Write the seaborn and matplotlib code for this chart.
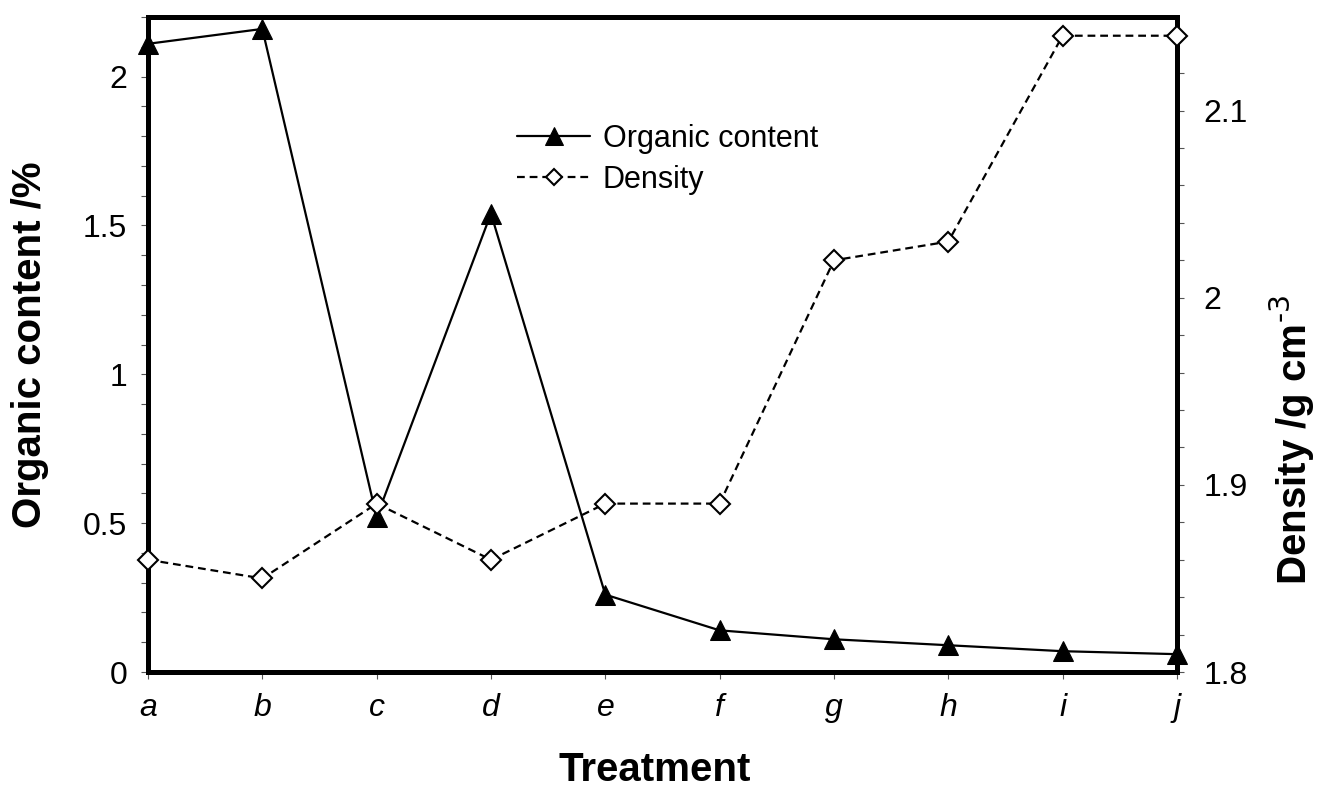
import matplotlib
matplotlib.use("Agg")
import matplotlib.pyplot as plt
import seaborn as sns
import pandas as pd
import numpy as np
from matplotlib.ticker import MultipleLocator, FuncFormatter

# ---- data ----
treatments = ["a", "b", "c", "d", "e", "f", "g", "h", "i", "j"]
organic_content = [2.11, 2.16, 0.52, 1.54, 0.26, 0.14, 0.11, 0.09, 0.07, 0.06]
density = [1.86, 1.85, 1.89, 1.86, 1.89, 1.89, 2.02, 2.03, 2.14, 2.14]

sns.set_theme(style="white")
plt.rcParams['font.family'] = ['Liberation Sans', 'DejaVu Sans']
plt.rcParams['mathtext.default'] = 'regular'
plt.rcParams['text.color'] = 'black'
plt.rcParams['axes.labelcolor'] = 'black'
plt.rcParams['xtick.color'] = 'black'
plt.rcParams['ytick.color'] = 'black'

df = pd.DataFrame({
    "pos": np.arange(len(treatments)),
    "treatment": treatments,
    "organic": organic_content,
    "density": density,
})

fig = plt.figure(figsize=(13.19, 7.91), dpi=100)
ax = fig.add_axes([0.1122, 0.1504, 0.7801, 0.8281])
ax2 = ax.twinx()

sns.lineplot(data=df, x="pos", y="organic", ax=ax, color="black", linewidth=1.6,
             marker="^", markersize=15, markeredgecolor="black", markerfacecolor="black",
             clip_on=False, legend=False, zorder=3)
sns.lineplot(data=df, x="pos", y="density", ax=ax2, color="black", linewidth=1.6,
             linestyle=(0, (3.5, 2.2)), marker="D", markersize=10,
             markerfacecolor="white", markeredgecolor="black", markeredgewidth=1.5,
             clip_on=False, legend=False, zorder=4)

ax.set_xlim(0, len(treatments) - 1)
ax.set_ylim(0, 2.2)
ax2.set_ylim(1.8, 2.15)

fmt = FuncFormatter(lambda v, p: f"{v:g}")
ax.yaxis.set_major_locator(MultipleLocator(0.5))
ax.yaxis.set_minor_locator(MultipleLocator(0.1))
ax.yaxis.set_major_formatter(fmt)
ax2.yaxis.set_major_locator(MultipleLocator(0.1))
ax2.yaxis.set_minor_locator(MultipleLocator(0.02))
ax2.yaxis.set_major_formatter(fmt)

ax.set_xticks(df["pos"])
ax.set_xticklabels(treatments, fontsize=23, style="italic", color="black")

tick_col = "#555555"
ax.tick_params(axis="x", which="major", direction="out", length=5, width=0.8,
               color=tick_col, labelcolor="black", pad=10, bottom=True, top=False)
ax.tick_params(axis="y", which="both", direction="out", length=5, width=0.8,
               color=tick_col, labelcolor="black", pad=10, labelsize=23,
               left=True, right=False)
ax2.tick_params(axis="y", which="both", direction="out", length=5, width=0.8,
                color=tick_col, labelcolor="black", pad=14, labelsize=23,
                right=True, left=False)

for a in (ax, ax2):
    for s in a.spines.values():
        s.set_linewidth(3.6)
        s.set_color("black")
        s.set_visible(True)

ax.set_xlabel("Treatment", fontsize=29, fontweight="bold", va="center", color="black")
ax.xaxis.set_label_coords(0.492, -0.15)
ax.set_ylabel("Organic content /%", fontsize=29, fontweight="bold", va="center",
              color="black")
ax.yaxis.set_label_coords(-0.115, 0.5)
ax2.set_ylabel("Density /g cm$^{\\text{-3}}$", fontsize=29, fontweight="bold",
               va="center", rotation=90, color="black")
ax2.yaxis.set_label_coords(1.112, 0.355)

handles = [ax.get_lines()[0], ax2.get_lines()[0]]
fig.legend(handles, ["Organic content", "Density"], loc="upper left",
           bbox_to_anchor=(0.392, 0.843), frameon=False, fontsize=22,
           handlelength=2.4, handletextpad=0.4, labelspacing=0.35,
           borderpad=0, borderaxespad=0, markerscale=0.85,
           labelcolor="black")

fig.savefig("out.png", dpi=100, facecolor="white")
